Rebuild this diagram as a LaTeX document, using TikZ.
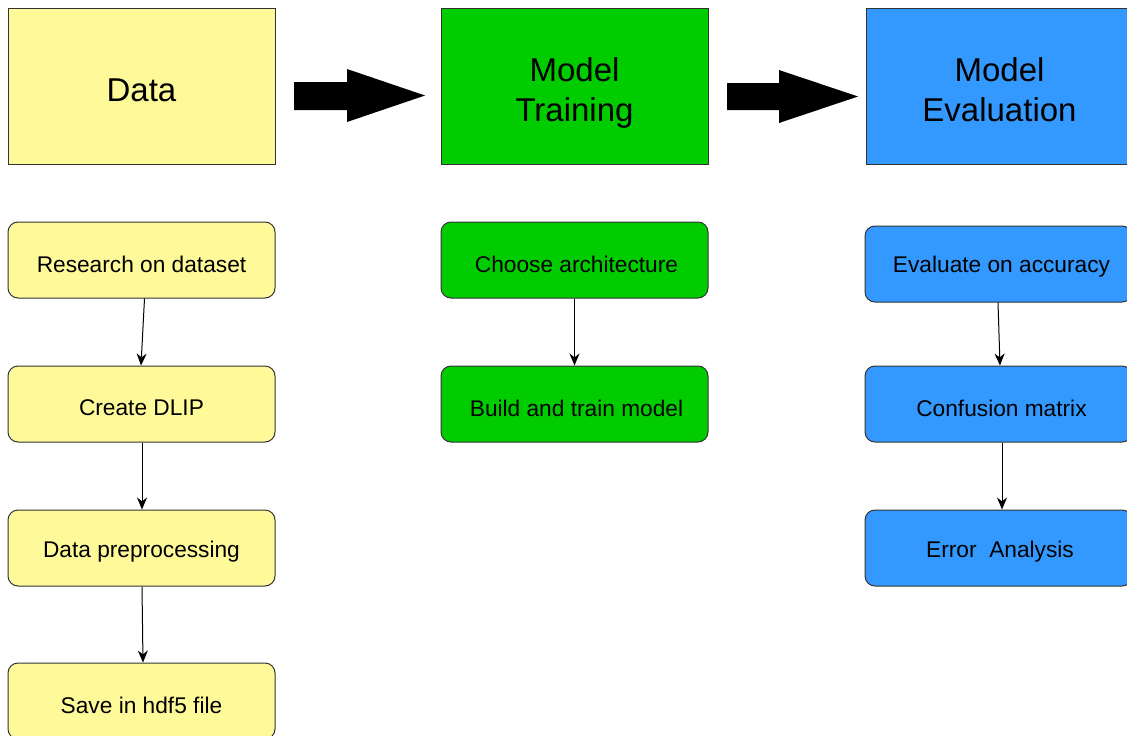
\documentclass[tikz,border=0pt]{standalone}
\usepackage{fontspec}
\setmainfont{Liberation Sans}
\definecolor{ylw}{HTML}{FFFA99}
\definecolor{grn}{HTML}{00CC00}
\definecolor{blu}{HTML}{3399FF}
\definecolor{edge}{HTML}{333333}
\usetikzlibrary{arrows.meta}
\newcommand{\shiftdown}[2]{\raisebox{-#1}[\height][\depth]{#2}}
\newcommand{\twolines}[2]{\begin{tabular}{@{}c@{}}#1\\#2\end{tabular}}
\begin{document}
\begin{tikzpicture}[x=1pt,y=-1pt,
  head/.style={draw=edge,line width=1pt,minimum width=267pt,minimum height=156pt,inner sep=0pt,font=\fontsize{33}{40}\selectfont},
  sub/.style={draw=edge,line width=1pt,rounded corners=10pt,minimum width=267pt,minimum height=76pt,inner sep=0pt,font=\fontsize{22.7}{26}\selectfont},
  link/.style={draw=black,line width=1pt,-{Stealth[length=12pt,width=10pt]}},
  bigarrow/.style={fill=black}]
\useasboundingbox (0,0) rectangle (1127,736);
\fill[white] (0,0) rectangle (1127,736);
% headers
\node[head,fill=ylw] (data) at (141.5,86) {\shiftdown{4pt}{Data}};
\node[head,fill=grn] (train) at (574.5,86) {\shiftdown{7pt}{\twolines{Model}{Training}}};
\node[head,fill=blu] (eval) at (999.5,86) {\shiftdown{7.5pt}{\twolines{Model}{Evaluation}}};
% big arrows
\fill[bigarrow] (294,82) -- (347,82) -- (347,69) -- (425,95.5) -- (347,122) -- (347,110) -- (294,110) -- cycle;
\fill[bigarrow] (727,83) -- (779,83) -- (779,70) -- (858,96.5) -- (779,123) -- (779,110) -- (727,110) -- cycle;
% data column
\node[sub,fill=ylw] (d1) at (141.5,260) {\shiftdown{4pt}{Research on dataset}};
\node[sub,fill=ylw] (d2) at (141.5,404) {\shiftdown{4pt}{Create DLIP}};
\node[sub,fill=ylw] (d3) at (141.5,548) {\shiftdown{4pt}{Data preprocessing}};
\node[sub,fill=ylw] (d4) at (141.5,701) {\shiftdown{4pt}{Save in hdf5 file}};
% training column
\node[sub,fill=grn] (t1) at (574.5,260) {\shiftdown{4pt}{\hspace{4pt}Choose architecture}};
\node[sub,fill=grn] (t2) at (574.5,404) {\shiftdown{4pt}{\hspace{4pt}Build and train model}};
% evaluation column
\node[sub,fill=blu] (e1) at (998.5,264) {\shiftdown{3pt}{\hspace{6pt}Evaluate on accuracy}};
\node[sub,fill=blu] (e2) at (998.5,404) {\shiftdown{4pt}{\hspace{6pt}Confusion matrix}};
\node[sub,fill=blu] (e3) at (998.5,548) {\shiftdown{4pt}{\hspace{3pt}Error\ \ Analysis}};
% links
\draw[link] ([xshift=3pt]d1.south) -- ([xshift=-0.5pt]d2.north);
\draw[link] ([xshift=0.5pt]d2.south) -- ([xshift=0.5pt]d3.north);
\draw[link] ([xshift=0.5pt]d3.south) -- ([xshift=1.5pt]d4.north);
\draw[link] (t1.south) -- (t2.north);
\draw[link] ([xshift=-0.5pt]e1.south) -- ([xshift=1.5pt]e2.north);
\draw[link] ([xshift=3.5pt]e2.south) -- ([xshift=3.5pt]e3.north);
\end{tikzpicture}
\end{document}
